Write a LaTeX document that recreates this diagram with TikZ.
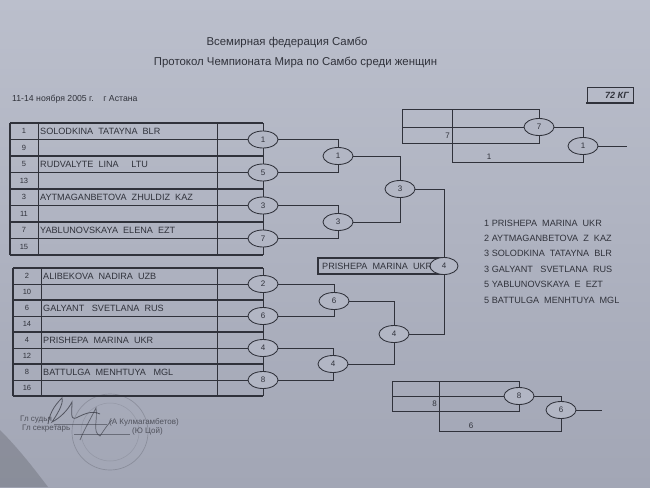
\documentclass[tikz,border=0pt]{standalone}
\usepackage{fontspec}
\setmainfont{Liberation Sans}
\usetikzlibrary{shapes.geometric,calc}
\definecolor{paper}{HTML}{B2B6C4}
\definecolor{papertop}{HTML}{BBBFCC}
\definecolor{paperbot}{HTML}{A2A6B5}
\definecolor{ink}{HTML}{30323B}
\begin{document}
\begin{tikzpicture}[x=1pt,y=-1pt,
  ln/.style={draw=ink,line width=0.85pt},
  thk/.style={draw=ink,line width=1.35pt},
  ov/.style={ellipse,draw=ink,line width=0.85pt,fill=paper,minimum width=30pt,minimum height=17pt,inner sep=0pt,font=\fontsize{8}{9}\selectfont,text=ink},
  nm/.style={anchor=west,inner sep=0pt,font=\fontsize{9.1}{10}\selectfont,text=ink},
  num/.style={inner sep=0pt,font=\fontsize{7.5}{8}\selectfont,text=ink},
  lbl/.style={inner sep=0pt,font=\fontsize{8}{9}\selectfont,text=ink},
  ttl/.style={inner sep=0pt,font=\fontsize{11.4}{13}\selectfont,text=ink},
  sig/.style={inner sep=0pt,anchor=west,font=\fontsize{8}{9}\selectfont,text=ink!75!paper}
]
\useasboundingbox (0,0) rectangle (650,487);
\shade[top color=papertop,bottom color=paperbot] (0,0) rectangle (650,487);
\fill[black,opacity=0.15] (0,430) .. controls (20,450) and (35,470) .. (48,487) -- (0,487) -- cycle;

% titles
\node[ttl] (t1) at (287,43) {Всемирная федерация Самбо};
\node[ttl] (t2) at (295.5,63) {Протокол Чемпионата Мира по Самбо среди женщин};
\node[sig,text=ink,font=\fontsize{8.7}{10}\selectfont] (date) at (12,99) {11-14 ноября 2005 г.\ \ \ \ г Астана};

% weight box
\draw[ln,line width=0.6pt] (587,103) -- (587,87) -- (633,87) -- (633,103);
\draw[thk,line width=1.6pt] (586,103) -- (634,103);
\node[inner sep=0pt,anchor=east,font=\bfseries\itshape\fontsize{9}{10}\selectfont,text=ink] (kg) at (629,95) {72 КГ};

% ---------- top table ----------
\foreach \i in {0,2,4,6,8} \draw[thk] (10,{123+16.5*\i}) -- (263,{123+16.5*\i});
\foreach \i in {1,3,5,7} \draw[ln] (10,{123+16.5*\i}) -- (263,{123+16.5*\i});
\draw[thk] (10,123) -- (10,255);
\draw[ln] (38,123) -- (38,255);
\draw[ln] (217,123) -- (217,255);
\draw[ln] (263,123) -- (263,255);
\foreach \n [count=\k from 0] in {1,9,5,13,3,11,7,15}
  \node[num] (tn\k) at (24,{123+16.5*\k+8.25}) {\n};
\foreach \s [count=\k from 0] in {SOLODKINA\ \ TATAYNA\ \ BLR,RUDVALYTE\ \ LINA\ \ \ \ \ LTU,AYTMAGANBETOVA\ \ ZHULDIZ\ \ KAZ,YABLUNOVSKAYA\ \ ELENA\ \ EZT}
  \node[nm] (tname\k) at (40,{123+33*\k+8.25}) {\s};

% ---------- bottom table ----------
\foreach \i in {0,2,4,6,8} \draw[thk] (13,{268+16*\i}) -- (263,{268+16*\i});
\foreach \i in {1,3,5,7} \draw[ln] (13,{268+16*\i}) -- (263,{268+16*\i});
\draw[thk] (13,268) -- (13,396);
\draw[ln] (41,268) -- (41,396);
\draw[ln] (217,268) -- (217,396);
\draw[ln] (263,268) -- (263,396);
\foreach \n [count=\k from 0] in {2,10,6,14,4,12,8,16}
  \node[num] (bn\k) at (27,{268+16*\k+8}) {\n};
\foreach \s [count=\k from 0] in {ALIBEKOVA\ \ NADIRA\ \ UZB,GALYANT\ \ \ SVETLANA\ \ RUS,PRISHEPA\ \ MARINA\ \ UKR,BATTULGA\ \ MENHTUYA\ \ \ MGL}
  \node[nm] (bname\k) at (43,{268+32*\k+8}) {\s};

% ---------- round 1 ovals ----------
\node[ov] (a1) at (263,139.5) {1};
\node[ov] (a2) at (263,172.5) {5};
\node[ov] (a3) at (263,205.5) {3};
\node[ov] (a4) at (263,238.5) {7};
\node[ov] (a5) at (263,284) {2};
\node[ov] (a6) at (263,316) {6};
\node[ov] (a7) at (263,348) {4};
\node[ov] (a8) at (263,380) {8};

% ---------- round 2 ----------
\node[ov] (b1) at (338,156) {1};
\node[ov] (b2) at (338,222) {3};
\node[ov] (b3) at (334,301) {6};
\node[ov] (b4) at (333,364) {4};
\draw[ln] (a1.east) -| (b1.north);
\draw[ln] (a2.east) -| (b1.south);
\draw[ln] (a3.east) -| (b2.north);
\draw[ln] (a4.east) -| (b2.south);
\draw[ln] (a5.east) -| (b3.north);
\draw[ln] (a6.east) -| (b3.south);
\draw[ln] (a7.east) -| (b4.north);
\draw[ln] (a8.east) -| (b4.south);

% ---------- round 3 ----------
\node[ov] (c1) at (400,189) {3};
\node[ov] (c2) at (394,334) {4};
\draw[ln] (b1.east) -| (c1.north);
\draw[ln] (b2.east) -| (c1.south);
\draw[ln] (b3.east) -| (c2.north);
\draw[ln] (b4.east) -| (c2.south);

% ---------- final ----------
\draw[ink,line width=1.1pt] (318,258) rectangle (445,274);
\node[nm] (wname) at (322,266) {PRISHEPA\ \ MARINA\ \ UKR};
\node[ov,minimum width=28pt] (fin) at (444,266) {4};
\draw[ln] (c1.east) -| (fin.north);
\draw[ln] (c2.east) -| (fin.south);

% ---------- top repechage ----------
\draw[ln] (402,109) rectangle (452,143);
\draw[ln] (402,127) -- (452,127);
\node[lbl,anchor=east] (rt7) at (450,136) {7};
\node[ov] (r7) at (539,127) {7};
\node[ov] (r1) at (583,146) {1};
\coordinate (rtA) at (452,109);
\coordinate (rtB) at (452,127);
\coordinate (rtC) at (452,143);
\coordinate (rtD) at (452,162);
\draw[ln] (rtA) -| (r7.north);
\draw[ln] (rtB) -- (r7.west);
\draw[ln] (rtC) -| (r7.south);
\draw[ln] (rtC) -- (rtD) -| (r1.south);
\node[lbl,anchor=south] (rt1) at (489,160) {1};
\draw[ln] (r7.east) -| (r1.north);
\coordinate (rtE) at (627,146);
\draw[ln] (r1.east) -- (rtE);

% ---------- bottom repechage ----------
\draw[ln] (392,381) rectangle (439,411);
\draw[ln] (392,396) -- (439,396);
\node[lbl,anchor=east] (rb8) at (437,404) {8};
\node[ov] (s8) at (519,396) {8};
\node[ov] (s6) at (561,410) {6};
\coordinate (rbA) at (439,381);
\coordinate (rbB) at (439,396);
\coordinate (rbC) at (439,411);
\coordinate (rbD) at (439,431);
\draw[ln] (rbA) -| (s8.north);
\draw[ln] (rbB) -- (s8.west);
\draw[ln] (rbC) -| (s8.south);
\draw[ln] (rbC) -- (rbD) -| (s6.south);
\node[lbl,anchor=south] (rb6) at (471,429) {6};
\draw[ln] (s8.east) -| (s6.north);
\coordinate (rbE) at (602,410);
\draw[ln] (s6.east) -- (rbE);

% ---------- results ----------
\foreach \s [count=\k from 0] in {1 PRISHEPA\ \ MARINA\ \ UKR,2 AYTMAGANBETOVA\ \ Z\ \ KAZ,3 SOLODKINA\ \ TATAYNA\ \ BLR,3 GALYANT\ \ \ SVETLANA\ \ RUS,5 YABLUNOVSKAYA\ \ E\ \ EZT,5 BATTULGA\ \ MENHTUYA\ \ MGL}
  \node[nm] (res\k) at (484,{223+15.4*\k}) {\s};

% ---------- signatures ----------
\draw[ink,opacity=0.22,line width=0.7pt] (110,432) circle (38);
\draw[ink,opacity=0.15,line width=0.5pt] (110,432) circle (29);
\node[sig] (judge) at (20,420) {Гл судья};
\node[sig] (secr) at (22,429) {Гл секретарь};
\node[sig] (jname) at (109,422) {(А Кулмагамбетов)};
\node[sig] (sname) at (132,431) {(Ю Цой)};
\draw[ink,opacity=0.5,line width=0.5pt] (54,424) -- (107,424);
\draw[ink,opacity=0.5,line width=0.5pt] (74,434) -- (130,434);
\draw[ink,opacity=0.7,line width=0.8pt] (48,424) .. controls (50,410) and (58,402) .. (62,398)
  .. controls (64,404) and (56,416) .. (52,422) .. controls (60,418) and (68,410) .. (72,402)
  .. controls (72,412) and (70,420) .. (76,418) .. controls (84,414) and (92,410) .. (100,414);
\draw[ink,opacity=0.6,line width=0.7pt] (80,440) .. controls (84,430) and (90,420) .. (96,408)
  .. controls (98,420) and (92,432) .. (100,436) .. controls (104,430) and (108,424) .. (112,420);
\end{tikzpicture}
\end{document}
